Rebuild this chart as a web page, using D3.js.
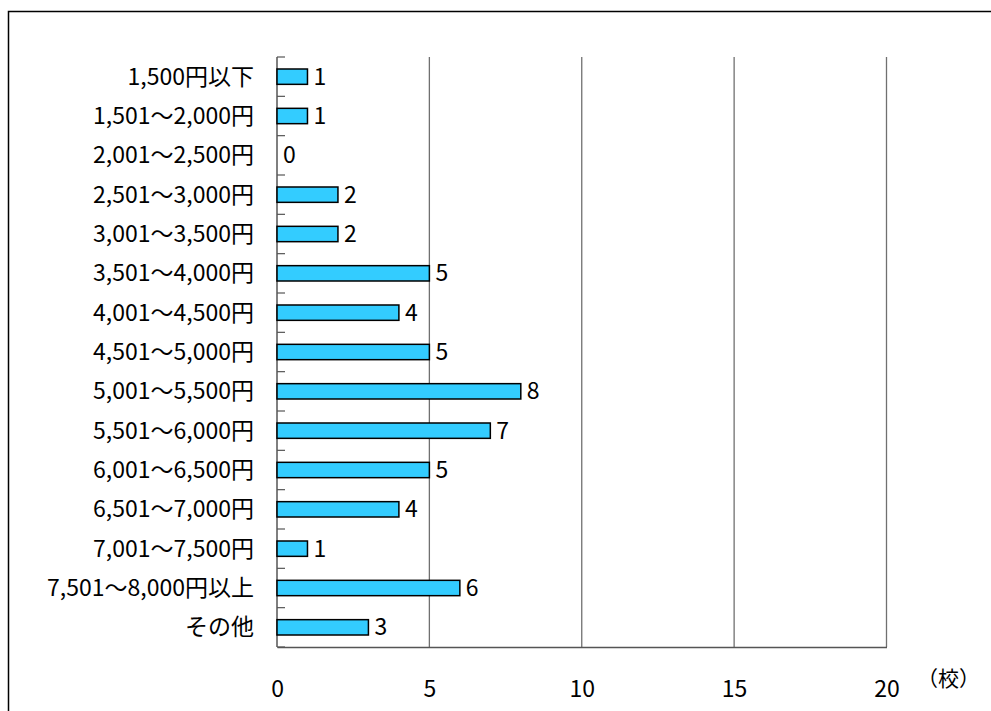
<!DOCTYPE html>
<html><head><meta charset="utf-8">
<script src="https://cdn.jsdelivr.net/npm/d3@7"></script>
<style>body{margin:0;background:#fff}svg{display:block}text{font-family:"Noto Sans CJK JP","Noto Sans",sans-serif;fill:#000}</style>
</head><body>
<svg id="c" width="991" height="711"></svg>
<script>
const categories = ["1,500円以下","1,501～2,000円","2,001～2,500円","2,501～3,000円","3,001～3,500円","3,501～4,000円","4,001～4,500円","4,501～5,000円","5,001～5,500円","5,501～6,000円","6,001～6,500円","6,501～7,000円","7,001～7,500円","7,501～8,000円以上","その他"];
const values = [1,1,0,2,2,5,4,5,8,7,5,4,1,6,3];
const xTicks = [0,5,10,15,20];
const unitLabel = "（校）";

(function(){
const svg = d3.select("#c");
const pL = 277, pR = 886.5, pT = 57, pB = 647;
const fs = 23;

svg.append("rect").attr("x",8.5).attr("y",11.5).attr("width",1000).attr("height",800)
  .attr("fill","none").attr("stroke","#000").attr("stroke-width",1.5);

const x = d3.scaleLinear().domain([0,20]).range([pL,pR]);
const y = d3.scaleBand().domain(categories).range([pT,pB]).paddingInner(0.61).paddingOuter(0.305);
const band = d3.scaleBand().domain(categories).range([pT,pB]);

svg.append("g").selectAll("line").data(xTicks.slice(1)).join("line")
  .attr("x1",d=>x(d)).attr("x2",d=>x(d)).attr("y1",pT).attr("y2",pB)
  .attr("stroke","#707070").attr("stroke-width",1.3);

const xAxis = d3.axisBottom(x).tickValues(xTicks).tickSize(0).tickPadding(0);
const gx = svg.append("g").attr("transform",`translate(0,${pB})`).call(xAxis);
gx.select(".domain").attr("stroke","#555").attr("stroke-width",1.5);
gx.selectAll("text").attr("y",42).attr("dy","0.35em").attr("font-size",fs).attr("fill","#000").style("font-family",'"Noto Sans CJK JP",sans-serif');

svg.append("line").attr("x1",pL).attr("x2",pL).attr("y1",pT).attr("y2",pB).attr("stroke","#555").attr("stroke-width",1.5);
const bounds = categories.map(c=>band(c)).concat([pB]);
svg.append("g").selectAll("line").data(bounds).join("line")
  .attr("x1",pL).attr("x2",pL+8).attr("y1",d=>d).attr("y2",d=>d)
  .attr("stroke","#555").attr("stroke-width",1.2);

svg.append("g").selectAll("text").data(categories).join("text")
  .attr("x",254).attr("y",d=>band(d)+band.bandwidth()/2).attr("dy","0.35em")
  .attr("text-anchor","end").attr("font-size",fs).text(d=>d);

svg.append("g").selectAll("rect").data(values.map((v,i)=>({v,c:categories[i]})).filter(d=>d.v>0)).join("rect")
  .attr("x",x(0)).attr("y",d=>y(d.c)).attr("width",d=>x(d.v)-x(0)).attr("height",y.bandwidth())
  .attr("fill","#33CCFF").attr("stroke","#000").attr("stroke-width",1.5);

svg.append("g").selectAll("text").data(values.map((v,i)=>({v,c:categories[i]}))).join("text")
  .attr("x",d=>x(d.v)+6).attr("y",d=>band(d.c)+band.bandwidth()/2).attr("dy","0.35em")
  .attr("font-size",fs).text(d=>d.v);

svg.append("text").attr("x",917).attr("y",679).attr("dy","0.35em").attr("font-size",21).text(unitLabel);
})();
</script>
</body></html>
